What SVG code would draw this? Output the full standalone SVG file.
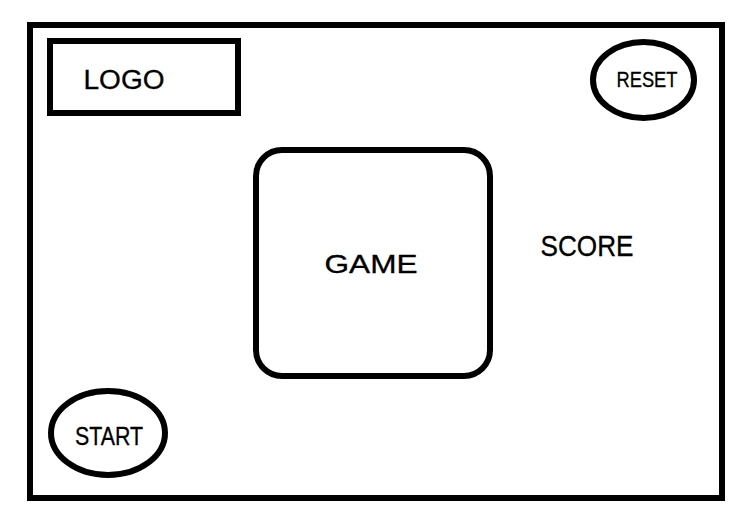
<svg xmlns="http://www.w3.org/2000/svg" width="753" height="520" viewBox="0 0 753 520">
  <style>
    .shape { fill: #ffffff; stroke: #000000; stroke-width: 6; }
    .label { font-family: "Liberation Sans", "DejaVu Sans", sans-serif; fill: #000000; stroke: #000000; stroke-width: 0.3; text-anchor: middle; dominant-baseline: central; lengthAdjust: spacingAndGlyphs; }
  </style>
  <rect x="0" y="0" width="753" height="520" fill="#ffffff"/>
  <g id="frame">
    <rect class="shape" x="30" y="25" width="692" height="473"/>
  </g>
  <g id="logo">
    <rect class="shape" x="50" y="41" width="188" height="72"/>
    <text class="label" x="124" y="80" font-size="27" textLength="81" lengthAdjust="spacingAndGlyphs">LOGO</text>
  </g>
  <g id="reset">
    <ellipse class="shape" cx="643.5" cy="80" rx="50.5" ry="38"/>
    <text class="label" x="647" y="79" font-size="22" textLength="61" lengthAdjust="spacingAndGlyphs">RESET</text>
  </g>
  <g id="game">
    <rect class="shape" x="256" y="150" width="234" height="226" rx="26" ry="26"/>
    <text class="label" x="371" y="264" font-size="25" textLength="93" lengthAdjust="spacingAndGlyphs">GAME</text>
  </g>
  <g id="score">
    <text class="label" x="587" y="246" font-size="29" textLength="93" lengthAdjust="spacingAndGlyphs">SCORE</text>
  </g>
  <g id="start">
    <ellipse class="shape" cx="108" cy="433" rx="57" ry="42"/>
    <text class="label" x="109" y="436" font-size="25" textLength="68" lengthAdjust="spacingAndGlyphs">START</text>
  </g>
  <g id="connectors"/>
</svg>
